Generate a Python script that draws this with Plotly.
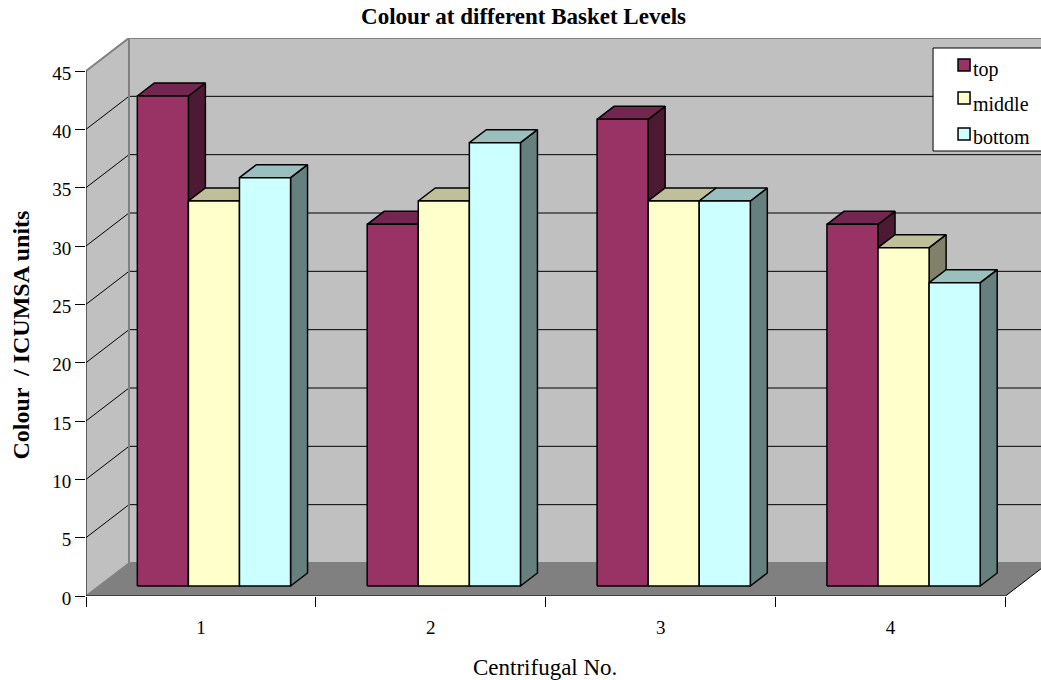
import plotly.graph_objects as go

categories = ["1", "2", "3", "4"]
series_names = ["top", "middle", "bottom"]
top = [42, 31, 40, 31]
middle = [33, 33, 33, 29]
bottom = [35, 38, 33, 26]
y_ticks = [0, 5, 10, 15, 20, 25, 30, 35, 40, 45]

front_colors = ["#993366", "#FFFFCC", "#CCFFFF"]
roof_colors = ["#732650", "#BFBF99", "#99BFBF"]
side_colors = ["#4D1A33", "#80806B", "#668080"]

W, H = 1041, 680
ML, MR, MT, MB = 85.5, 0, 38, 84
PX_X = 230.0
PX_Y = 525.0 / 45.0
DEPTH_X, DEPTH_Y = 43 / PX_X, 33 / PX_Y
BAR_DX, BAR_DY = 17 / PX_X, 13 / PX_Y
OFF_X, OFF_Y = 13 / PX_X, 10 / PX_Y
BAR_W = 1 / 4.5
SERIF = "Liberation Serif"

x_max = (W - ML - MR) / PX_X
y_max = (H - MT - MB) / PX_Y
n = len(categories)
y_top = y_ticks[-1]


def poly(xs, ys, fill, line="rgba(0,0,0,0)", width=0):
    return go.Scatter(x=xs, y=ys, mode="lines", fill="toself", fillcolor=fill,
                      line=dict(color=line, width=width), hoverinfo="skip",
                      showlegend=False, cliponaxis=False)


def path(xs, ys, color, width):
    return go.Scatter(x=xs, y=ys, mode="lines", line=dict(color=color, width=width),
                      hoverinfo="skip", showlegend=False, cliponaxis=False)


fig = go.Figure()
GRAY = "#C0C0C0"
EDGE = "#808080"
# walls and floor
fig.add_trace(poly([0, DEPTH_X, DEPTH_X, 0, 0], [0, DEPTH_Y, y_top + DEPTH_Y, y_top, 0], GRAY))
fig.add_trace(poly([DEPTH_X, n + DEPTH_X, n + DEPTH_X, DEPTH_X, DEPTH_X],
                   [DEPTH_Y, DEPTH_Y, y_top + DEPTH_Y, y_top + DEPTH_Y, DEPTH_Y], GRAY))
fig.add_trace(poly([0, DEPTH_X, n + DEPTH_X, n, 0], [0, DEPTH_Y, DEPTH_Y, 0, 0], EDGE))
# gridlines
gx, gy = [], []
for v in y_ticks[1:-1]:
    gx += [0, DEPTH_X, n + DEPTH_X, None]
    gy += [v, v + DEPTH_Y, v + DEPTH_Y, None]
fig.add_trace(path(gx, gy, "#000000", 1))
# wall edges
fig.add_trace(path([0, DEPTH_X, n + DEPTH_X], [y_top, y_top + DEPTH_Y, y_top + DEPTH_Y], EDGE, 2))
fig.add_trace(path([DEPTH_X, DEPTH_X, n + DEPTH_X], [y_top + DEPTH_Y, DEPTH_Y, DEPTH_Y], EDGE, 2))
fig.add_trace(path([0, DEPTH_X], [0, DEPTH_Y], EDGE, 1.5))
# right floor edge and axes
fig.add_trace(path([n, n + DEPTH_X], [0, DEPTH_Y], "#000000", 1))
fig.add_trace(path([0, n], [0, 0], "#000000", 1))
fig.add_trace(path([0, 0], [0, y_top], "#000000", 1))

# bars
for s, vals in enumerate([top, middle, bottom]):
    fx, fy, rx, ry, sx, sy = [], [], [], [], [], []
    for c, v in enumerate(vals):
        x0 = c + 0.75 * BAR_W + s * BAR_W + OFF_X
        x1 = x0 + BAR_W
        y0 = OFF_Y
        y1 = OFF_Y + v
        fx += [x0, x1, x1, x0, x0, None]
        fy += [y0, y0, y1, y1, y0, None]
        rx += [x0, x1, x1 + BAR_DX, x0 + BAR_DX, x0, None]
        ry += [y1, y1, y1 + BAR_DY, y1 + BAR_DY, y1, None]
        sx += [x1, x1 + BAR_DX, x1 + BAR_DX, x1, x1, None]
        sy += [y0, y0 + BAR_DY, y1 + BAR_DY, y1, y0, None]
    fig.add_trace(poly(sx, sy, side_colors[s], "#000000", 1.5))
    fig.add_trace(poly(rx, ry, roof_colors[s], "#000000", 1.5))
    fig.add_trace(poly(fx, fy, front_colors[s], "#000000", 1.5))


def fx_p(x):
    return (x - ML) / (W - ML)


def fy_p(y):
    return (H - MB - y) / (H - MT - MB)


# legend
shapes = [dict(type="rect", xref="paper", yref="paper", x0=fx_p(933), x1=1.01,
               y0=fy_p(151), y1=fy_p(48),
               fillcolor="#FFFFFF", line=dict(color="#000000", width=1))]
annotations = []
for i, (name, sw, tb) in enumerate(zip(series_names, [59, 92, 128], [69, 104, 137])):
    shapes.append(dict(type="rect", xref="paper", yref="paper",
                       x0=fx_p(958), x1=fx_p(970), y0=fy_p(sw + 12), y1=fy_p(sw),
                       fillcolor=front_colors[i], line=dict(color="#000000", width=1.5)))
    annotations.append(dict(text=name, xref="paper", yref="paper",
                            x=fx_p(971), y=fy_p(tb), xanchor="left", yanchor="middle",
                            showarrow=False,
                            font=dict(family=SERIF, size=20, color="#000000")))

annotations.append(dict(text="Centrifugal No.", xref="paper", yref="paper",
                        x=fx_p(545), y=fy_p(668), xanchor="center", yanchor="middle",
                        showarrow=False, font=dict(family=SERIF, size=23, color="#000000")))
annotations.append(dict(text="<b>Colour  / ICUMSA units</b>", xref="paper", yref="paper",
                        x=fx_p(20), y=fy_p(335), xanchor="center", yanchor="middle",
                        textangle=-90, showarrow=False,
                        font=dict(family=SERIF, size=24, color="#000000")))

fig.update_layout(
    width=W, height=H,
    margin=dict(l=ML, r=MR, t=MT, b=MB, pad=0),
    paper_bgcolor="#FFFFFF", plot_bgcolor="#FFFFFF",
    showlegend=False,
    font=dict(family=SERIF, size=19, color="#000000"),
    title=dict(text="<b>Colour at different Basket Levels</b>", x=523.5 / W, xanchor="center",
               y=1 - 16 / H, yanchor="middle", font=dict(family=SERIF, size=23, color="#000000")),
    xaxis=dict(range=[0, x_max], showgrid=False, zeroline=False, showline=False,
               tickmode="array", tickvals=[i + 0.5 for i in range(n)], ticktext=categories,
               ticks="", ticklabelstandoff=18, tickfont=dict(family=SERIF, size=19),
               minor=dict(tickmode="array", tickvals=list(range(n + 1)), ticks="outside",
                          ticklen=10, tickcolor="#000000", tickwidth=1, showgrid=False)),
    yaxis=dict(range=[0, y_max], showgrid=False, zeroline=False, showline=False,
               tickmode="array", tickvals=y_ticks, ticks="outside", ticklen=10,
               ticklabelshift=2,
               tickcolor="#000000", tickwidth=1, tickfont=dict(family=SERIF, size=19)),
    shapes=shapes, annotations=annotations,
)

fig.write_html("out.html", config={"displayModeBar": False},
               post_script="document.body.style.margin='0';document.body.style.overflow='hidden';")
